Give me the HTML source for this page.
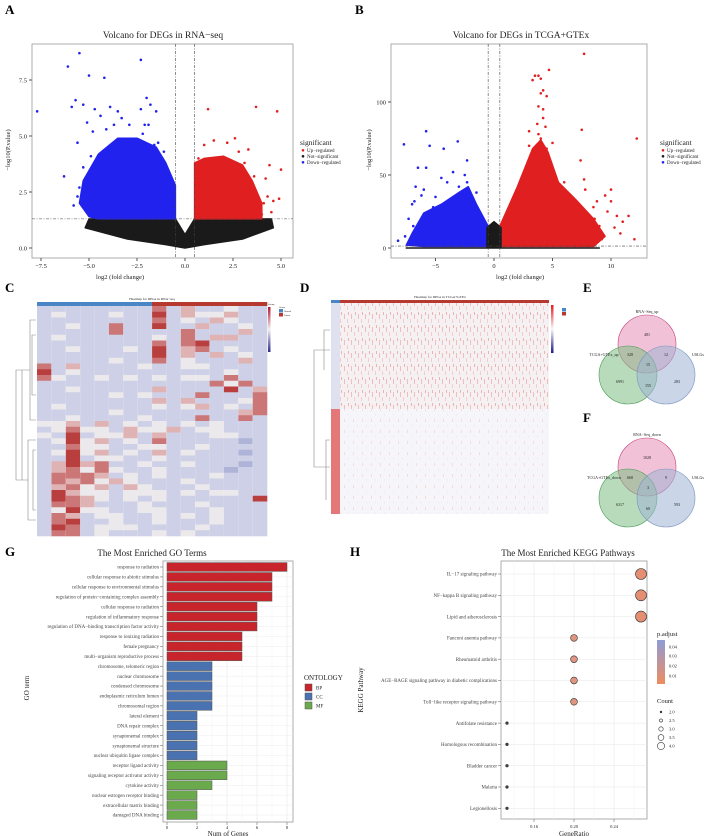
<!DOCTYPE html>
<html><head><meta charset="utf-8">
<style>
html,body{margin:0;padding:0;background:#fff;}
svg{display:block;font-family:"Liberation Serif",serif;}
</style></head>
<body>
<svg id="fig" width="708" height="836" viewBox="0 0 708 836" xmlns="http://www.w3.org/2000/svg">
<defs>
<linearGradient id="gradC" x1="0" y1="0" x2="0" y2="1"><stop offset="0" stop-color="#b2182b"/><stop offset="0.5" stop-color="#f2f0f0"/><stop offset="1" stop-color="#2c2c8c"/></linearGradient>
<linearGradient id="gradD" x1="0" y1="0" x2="0" y2="1"><stop offset="0" stop-color="#e8181c"/><stop offset="0.5" stop-color="#f7f7f7"/><stop offset="1" stop-color="#1a1a8c"/></linearGradient>
<linearGradient id="gradP" x1="0" y1="0" x2="0" y2="1"><stop offset="0" stop-color="#8e9cd6"/><stop offset="1" stop-color="#ee8c5e"/></linearGradient>
<pattern id="streak" width="7" height="13" patternUnits="userSpaceOnUse"><rect width="7" height="13" fill="#f5f1f3"/><rect x="1" y="2" width="0.6" height="5" fill="#ef9a9a"/><rect x="4" y="7" width="0.6" height="4" fill="#f3b4b4"/><rect x="5.5" y="0" width="0.5" height="3" fill="#e57373"/></pattern>
<pattern id="streak2" width="9" height="11" patternUnits="userSpaceOnUse"><rect width="9" height="11" fill="#f6f5f9"/><rect x="2" y="1" width="0.5" height="3" fill="#f3c2c2"/><rect x="6" y="6" width="0.5" height="3" fill="#ebe7f2"/></pattern>
</defs>
<g id="root"></g>
</svg>
<script>
// ---------- DATA ----------
const aBlueX=[-5.5,-2.3,-6.1,-5,-4.2,-5.7,-7.7,-5.9,-5.3,-4.7,-3.9,-3.5,-2,-1.8,-1.5,-2.3,-4.4,-3.3,-2.1,-1.9,-5.1,-4.8,-4.1,-3.7,-2.9,-2.2,-5.6,-4.9,-4.6,-6.3,-5.5,-5.2,-4.4,-3.8,-3.1,-2.6,-1.2,-1.6,-3.3,-4.0,-5.6,-5.8,-5.3,-4.9,-1.1,-0.9,-1.4];
const aBlueY=[8.7,8.4,8.1,7.7,7.6,6.6,6.1,6.3,6.4,6.2,6.3,6.1,6.7,6.4,6.1,6.2,5.9,5.8,5.5,5.5,5.6,5.2,5.3,5.5,5.5,5.1,4.7,4.1,3.7,3.2,2.7,2.9,3.3,4.4,4.6,4.5,4.0,4.6,3.9,4.2,2.3,1.9,3.6,2.5,4.3,3.5,4.7];
const aRedX=[1.2,3.7,4.8,2.6,3.3,1,4.4,5,4.9,4.6,4.2,3.5,4,3.1,3.6,2.2,2.8,1.5,1.9,3.9,4.3,2.4,4.1,3.8,4.5,3.2,0.7];
const aRedY=[6.2,6.3,6.1,4.9,4.4,4.6,3.7,3.5,2.2,2.1,3.1,2.8,1.5,3.8,3.2,4.7,4.3,4.8,4.0,2.0,2.3,3.9,2.0,1.9,1.6,2.6,4.0];
const aBlueEnvX=[-0.5,-0.5,-1,-1.5,-2.5,-3.5,-4.5,-5.3,-5.5,-5,-4.5];
const aBlueEnvY=[1.3,2.8,3.8,4.5,4.9,4.9,4.2,3,2,1.4,1.3];
const aRedEnvX=[0.5,0.5,1,2,3,3.5,4,4];
const aRedEnvY=[1.3,3.8,4,4.1,3.7,3,2,1.3];
const aBlackEnvX=[-5,-5.2,-3,-1,0,1,3,4.6,4.5,0.5,0,-0.5];
const aBlackEnvY=[1.3,0.9,0.4,0.15,0,0.15,0.4,0.9,1.3,1.3,0.6,1.3];
const aXTicks=[-7.5,-5,-2.5,0,2.5,5];
const aXTickLabels=["−7.5","−5.0","−2.5","0.0","2.5","5.0"];
const aYTicks=[0,2.5,5,7.5];
const aYTickLabels=["0.0","2.5","5.0","7.5"];
const bBlueX=[-5.8,-7.7,-5.5,-4.3,-3.1,-2.3,-5.8,-6.5,-3.5,-2.5,-4.5,-6.7,-6,-6.8,-7,-2.3,-4,-3,-7.3,-6.2,-5,-8.2,-6.9,-7.6,-5.2,-1.5,-1.8];
const bBlueY=[80,71,70,68,73,60,55,55,52,50,48,42,40,32,30,45,45,42,20,36,35,5,15,8,28,38,34];
const bRedX=[7.7,4.7,3.5,4,3.8,3.3,4.2,4,4.5,3.8,4.2,4.2,3.7,4.4,3,7.5,12.2,3.8,4,5,3,4.5,7.4,7.7,7.8,10,9.5,8.8,10,6.5,6.5,8.5,11.5,12,10.5,9.7,8,9,10.8,6,11,9.2,8.6,10.3];
const bRedY=[133,122,118,116,118,115,108,106,104,97,95,89,85,83,80,81,75,78,75,72,70,68,60,47,40,40,36,32,32,30,35,28,22,6,22,25,12,15,10,45,18,6,20,14];
const bBlueEnvX=[-0.5,-0.5,-1.5,-2.2,-3,-4.5,-6,-7,-7.5,-6];
const bBlueEnvY=[1,15,30,42,38,30,24,10,2,1];
const bRedEnvX=[0.5,0.5,2,3.3,4,4.6,5.5,7,8.5,9.5,8.5];
const bRedEnvY=[1,15,42,68,74,66,45,33,20,8,1];
const bBlackEnvX=[-7.5,-0.6,-0.6,0,0.6,0.6,9];
const bBlackEnvY=[0,0,14,18,14,0,0];
const bXTicks=[-5,0,5,10];
const bYTicks=[0,50,100];
const cRows=["2222222252422322","2322232262433422","2222222252324322","2232252262242232","2222252222522242","2322222232524422","2222222252562222","2232223262452322","2222222262424232","2222232252322242","5242222322332222","6232222222222322","5322323232332522","2222222222225352","2232222242222624","2222232322252225","2222222242422235","2322222232342325","2222232222222245","2232222322252252","3342423232323222","2353324334233222","3262334242223322","2363423252222212","2253322332232222","2363423242322212","2262332232222222","2464522322322212","2453532232222122","2555423232223222","2545343222322222","2453424322232222","2643323332323322","2654323232222226","2554222322232222","2363322332223222","2542332232323222","2562232232223222","2652333222232222","2552322232322222"];
const cGroups=["N","N","N","N","N","N","N","N","T","T","T","T","T","T","T","T"];
const goTerms=["response to radiation","cellular response to abiotic stimulus","cellular response to environmental stimulus","regulation of protein−containing complex assembly","cellular response to radiation","regulation of inflammatory response","regulation of DNA−binding transcription factor activity","response to ionizing radiation","female pregnancy","multi−organism reproductive process","chromosome, telomeric region","nuclear chromosome","condensed chromosome","endoplasmic reticulum lumen","chromosomal region","lateral element","DNA repair complex","synaptonemal complex","synaptonemal structure","nuclear ubiquitin ligase complex","receptor ligand activity","signaling receptor activator activity","cytokine activity","nuclear estrogen receptor binding","extracellular matrix binding","damaged DNA binding"];
const goCounts=[8,7,7,7,6,6,6,5,5,5,3,3,3,3,3,2,2,2,2,2,4,4,3,2,2,2];
const goOnt=["BP","BP","BP","BP","BP","BP","BP","BP","BP","BP","CC","CC","CC","CC","CC","CC","CC","CC","CC","CC","MF","MF","MF","MF","MF","MF"];
const goXTicks=[0,2,4,6,8];
const keggTerms=["IL−17 signaling pathway","NF−kappa B signaling pathway","Lipid and atherosclerosis","Fanconi anemia pathway","Rheumatoid arthritis","AGE−RAGE signaling pathway in diabetic complications","Toll−like receptor signaling pathway","Antifolate resistance","Homologous recombination","Bladder cancer","Malaria","Legionellosis"];
const keggRatio=[0.267,0.267,0.267,0.2,0.2,0.2,0.2,0.133,0.133,0.133,0.133,0.133];
const keggCount=[4,4,4,3,3,3,3,2,2,2,2,2];
const keggP=[0.005,0.005,0.006,0.008,0.008,0.008,0.008,0.05,0.05,0.05,0.05,0.05];
const keggXTicks=[0.16,0.2,0.24];
const vennE=["481","328","12","15","6991","155","283"];
const vennF=["1028","668","9","3","6317","60","593"];

// ---------- HELPERS ----------
const NS="http://www.w3.org/2000/svg";
const root=document.getElementById('root');
function mk(tag,attrs,parent,txt){const e=document.createElementNS(NS,tag);for(const k in attrs)e.setAttribute(k,attrs[k]);if(txt!==undefined)e.textContent=txt;(parent||root).appendChild(e);return e;}
function grp(name){const g=mk('g',{});


return g;}
function txt(g,x,y,s,size,opts){opts=opts||{};const a={x:x,y:y,'font-size':size,fill:opts.fill||'#222'};if(opts.anchor)a['text-anchor']=opts.anchor;if(opts.weight)a['font-weight']=opts.weight;if(opts.rot)a.transform='rotate(-90 '+x+' '+y+')';const t=mk('text',a,g,s);


return t;}
function poly(g,xs,ys,fx,fy,fill,name){const p=xs.map((v,i)=>fx(v).toFixed(1)+','+fy(ys[i]).toFixed(1)).join(' ');const e=mk('polygon',{points:p,fill:fill,stroke:fill,'stroke-width':1.5,'stroke-linejoin':'round'},g);


}
function dots(g,xs,ys,fx,fy,fill,name){xs.forEach((v,i)=>{const c=mk('circle',{cx:fx(v),cy:fy(ys[i]),r:1.3,fill:fill},g);


});}
function panelLabel(s,x,y){txt(root,x,y,s,13,{weight:'bold',fill:'#000',name:'panel-label-'+s.toLowerCase()});}

// ---------- PANEL A ----------
(function(){
const g=grp('volcano-rna-seq');
const fx=v=>41+(v+7.5)*19.2, fy=v=>248-v*22.4;
mk('rect',{x:32,y:44,width:261,height:214,fill:'#fff',stroke:'#999','stroke-width':0.8},g);
poly(g,aBlackEnvX,aBlackEnvY,fx,fy,'#1a1a1a','nonsig-cloud');
poly(g,aBlueEnvX,aBlueEnvY,fx,fy,'#2222ee','down-cloud');
poly(g,aRedEnvX,aRedEnvY,fx,fy,'#e02020','up-cloud');
dots(g,aBlueX,aBlueY,fx,fy,'#2222ee','down-point');
dots(g,aRedX,aRedY,fx,fy,'#e02020','up-point');
[-0.5,0.5].forEach(v=>mk('line',{x1:fx(v),x2:fx(v),y1:44,y2:258,stroke:'#444','stroke-dasharray':'3,1.5,1,1.5','stroke-width':0.6},g));
mk('line',{x1:32,x2:293,y1:fy(1.3),y2:fy(1.3),stroke:'#444','stroke-dasharray':'3,1.5,1,1.5','stroke-width':0.6},g);
aXTicks.forEach((v,i)=>{mk('line',{x1:fx(v),x2:fx(v),y1:258,y2:261,stroke:'#555'},g);txt(g,fx(v),268,aXTickLabels[i],6.5,{anchor:'middle',name:'x-tick'});});
aYTicks.forEach((v,i)=>{mk('line',{x1:29,x2:32,y1:fy(v),y2:fy(v),stroke:'#555'},g);txt(g,27,fy(v)+2.3,aYTickLabels[i],6.5,{anchor:'end',name:'y-tick'});});
txt(g,163,38,'Volcano for DEGs in RNA−seq',9.5,{anchor:'middle',name:'chart-title'});
txt(g,120,279,'log2 (fold change)',6.5,{anchor:'middle',name:'x-axis-title'});
txt(g,10,150,'−log10(P.value)',6.5,{anchor:'middle',rot:true,name:'y-axis-title'});
txt(g,300,145,'significant',7.5,{name:'legend-title'});
[['#e02020','Up−regulated',152],['#1a1a1a','Not−significant',158],['#2222ee','Down−regulated',164]].forEach(e=>{mk('circle',{cx:303,cy:e[2]-1.7,r:1.3,fill:e[0]},g);txt(g,307,e[2],e[1],5,{name:'legend-entry'});});
})();
panelLabel('A',5,14);

// ---------- PANEL B ----------
(function(){
const g=grp('volcano-tcga-gtex');
const fx=v=>494+v*11.7, fy=v=>248-v*1.46;
mk('rect',{x:391,y:44,width:256,height:214,fill:'#fff',stroke:'#999','stroke-width':0.8},g);
poly(g,bBlueEnvX,bBlueEnvY,fx,fy,'#2222ee','down-cloud');
poly(g,bRedEnvX,bRedEnvY,fx,fy,'#e02020','up-cloud');
poly(g,bBlackEnvX,bBlackEnvY,fx,fy,'#1a1a1a','nonsig-cloud');
dots(g,bBlueX,bBlueY,fx,fy,'#2222ee','down-point');
dots(g,bRedX,bRedY,fx,fy,'#e02020','up-point');
[-0.5,0.5].forEach(v=>mk('line',{x1:fx(v),x2:fx(v),y1:44,y2:258,stroke:'#444','stroke-dasharray':'3,1.5,1,1.5','stroke-width':0.6},g));
mk('line',{x1:391,x2:647,y1:fy(1.3),y2:fy(1.3),stroke:'#444','stroke-dasharray':'3,1.5,1,1.5','stroke-width':0.6},g);
bXTicks.forEach(v=>{mk('line',{x1:fx(v),x2:fx(v),y1:258,y2:261,stroke:'#555'},g);txt(g,fx(v),268,v<0?'−'+(-v):String(v),6.5,{anchor:'middle',name:'x-tick'});});
bYTicks.forEach(v=>{mk('line',{x1:388,x2:391,y1:fy(v),y2:fy(v),stroke:'#555'},g);txt(g,386,fy(v)+2.3,String(v),6.5,{anchor:'end',name:'y-tick'});});
txt(g,521,38,'Volcano for DEGs in TCGA+GTEx',9.5,{anchor:'middle',name:'chart-title'});
txt(g,520,279,'log2 (fold change)',6.5,{anchor:'middle',name:'x-axis-title'});
txt(g,371,150,'−log10(P.value)',6.5,{anchor:'middle',rot:true,name:'y-axis-title'});
txt(g,660,145,'significant',7.5,{name:'legend-title'});
[['#e02020','Up−regulated',152],['#1a1a1a','Not−significant',158],['#2222ee','Down−regulated',164]].forEach(e=>{mk('circle',{cx:663,cy:e[2]-1.7,r:1.3,fill:e[0]},g);txt(g,667,e[2],e[1],5,{name:'legend-entry'});});
})();
panelLabel('B',355,14);

// ---------- PANEL C ----------
(function(){
const g=grp('heatmap-rna-seq');
const cols=['#7e86bf','#aeb3d8','#cdd0e6','#ebe9ec','#dfb3b3','#cc7777','#b93f3f'];
const x0=37,x1=267,y0=306,y1=536;
const cw=(x1-x0)/cGroups.length, rh=(y1-y0)/cRows.length;
cGroups.forEach((gg,j)=>{const r=mk('rect',{x:x0+j*cw,y:302,width:cw+0.3,height:4,fill:gg==='N'?'#4a86c5':'#b5392e'},g);


});
cRows.forEach((row,i)=>{for(let j=0;j<row.length;j++){const r=mk('rect',{x:x0+j*cw,y:y0+i*rh,width:cw+0.3,height:rh+0.3,fill:cols[+row[j]]},g);


}});
for(let j=1;j<cGroups.length;j++)mk('line',{x1:x0+j*cw,x2:x0+j*cw,y1:y0,y2:y1,stroke:'#fff','stroke-width':0.25,opacity:0.6},g);
const d='M36,320 H30 V420 H36 M30,370 H22 V480 M36,440 H28 V520 H36 M28,480 H16 V370 H22 M36,335 H32 V395 H36 M36,450 H33 V510 H36';
mk('path',{d:d,fill:'none',stroke:'#888','stroke-width':0.6},g);
txt(g,152,300,'Heatmap for DEGs in RNA−seq',3.5,{anchor:'middle',name:'chart-title'});
mk('rect',{x:268,y:307,width:2.5,height:45,fill:'url(#gradC)'},g);
txt(g,268,305,'Group',2.5,{name:'legend-title'});
mk('rect',{x:279,y:309,width:4,height:3.5,fill:'#4a86c5'},g);mk('rect',{x:279,y:313,width:4,height:3.5,fill:'#b5392e'},g);
txt(g,279,308,'Group',2.3,{name:'legend-title'});txt(g,284,312,'Normal',2.3,{name:'legend-entry'});txt(g,284,316,'Tumor',2.3,{name:'legend-entry'});
})();
panelLabel('C',5,292);

// ---------- PANEL D ----------
(function(){
const g=grp('heatmap-tcga-gtex');
mk('rect',{x:331,y:300,width:9,height:3,fill:'#4a86c5'},g);
mk('rect',{x:340,y:300,width:209,height:3,fill:'#b5392e'},g);
mk('rect',{x:331,y:303,width:218,height:106,fill:'url(#streak)'},g);
mk('rect',{x:331,y:409,width:218,height:105,fill:'url(#streak2)'},g);
mk('rect',{x:331,y:303,width:9,height:106,fill:'#dfe1ef'},g);
mk('rect',{x:331,y:409,width:9,height:105,fill:'#e47878'},g);
mk('path',{d:'M330,350 H314 V467 H330 M330,330 H324 V370 M330,440 H326 V500',fill:'none',stroke:'#888','stroke-width':0.6},g);
txt(g,440,298,'Heatmap for DEGs in TCGA+GTEx',3.5,{anchor:'middle',name:'chart-title'});
mk('rect',{x:551,y:305,width:2.5,height:48,fill:'url(#gradD)'},g);
mk('rect',{x:562,y:308,width:4,height:3.5,fill:'#4a86c5'},g);mk('rect',{x:562,y:312,width:4,height:3.5,fill:'#b5392e'},g);
})();
panelLabel('D',300,292);

// ---------- VENN E/F ----------
function venn(name,cy,vals,topLbl,leftLbl){
const g=grp(name);
mk('circle',{cx:647,cy:cy,r:29,fill:'#e58fb6',stroke:'#c8407a','stroke-width':0.6,'fill-opacity':0.55},g);
mk('circle',{cx:628,cy:cy+31,r:29,fill:'#7dbf84',stroke:'#4a9a55','stroke-width':0.6,'fill-opacity':0.55},g);
mk('circle',{cx:666,cy:cy+31,r:29,fill:'#9fb4d3',stroke:'#7a92c0','stroke-width':0.6,'fill-opacity':0.55},g);
txt(g,647,cy-31,topLbl,4,{anchor:'middle',name:'set-label'});
txt(g,604,cy+12,leftLbl,4,{anchor:'middle',name:'set-label'});
txt(g,698,cy+12,'USLGs',4,{anchor:'middle',name:'set-label'});
const pos=[[647,cy-8],[630,cy+12],[666,cy+12],[648,cy+22],[620,cy+39],[648,cy+43],[677,cy+39]];
vals.forEach((v,i)=>txt(g,pos[i][0],pos[i][1],v,4,{anchor:'middle',name:'region-count'}));
}
venn('venn-up',344,vennE,'RNA−Seq_up','TCGA+GTEx_up');
venn('venn-down',467,vennF,'RNA−Seq_down','TCGA+GTEx_down');
panelLabel('E',583,292);
panelLabel('F',583,422);

// ---------- PANEL G ----------
(function(){
const g=grp('go-bar-chart');
const fx=v=>167+v*15, fy=i=>567+i*9.92;
const colors={BP:'#c7252b',CC:'#4a72b0',MF:'#6aaa4c'};
mk('rect',{x:163,y:561,width:130,height:261,fill:'#fff',stroke:'#999','stroke-width':0.8},g);
for(let v=0;v<=8.5;v+=1)mk('line',{x1:fx(v),x2:fx(v),y1:561,y2:822,stroke:v%2?'#f2f2f2':'#e4e4e4','stroke-width':0.5},g);
goTerms.forEach((t,i)=>mk('line',{x1:163,x2:293,y1:fy(i),y2:fy(i),stroke:'#ececec','stroke-width':0.5},g));
goTerms.forEach((t,i)=>{
const r=mk('rect',{x:fx(0),y:fy(i)-4.4,width:fx(goCounts[i])-fx(0),height:8.8,fill:colors[goOnt[i]],stroke:'#555','stroke-width':0.5},g);


mk('line',{x1:160,x2:163,y1:fy(i),y2:fy(i),stroke:'#555','stroke-width':0.5},g);
txt(g,159,fy(i)+1.7,t,5,{anchor:'end',fill:'#444',name:'y-tick'});
});
goXTicks.forEach(v=>{mk('line',{x1:fx(v),x2:fx(v),y1:822,y2:825,stroke:'#555','stroke-width':0.5},g);txt(g,fx(v),829,String(v),4.5,{anchor:'middle',name:'x-tick'});});
txt(g,152,556,'The Most Enriched GO Terms',9,{anchor:'middle',name:'chart-title'});
txt(g,228,836,'Num of Genes',7,{anchor:'middle',name:'x-axis-title'});
txt(g,29,688,'GO term',7,{anchor:'middle',rot:true,name:'y-axis-title'});
txt(g,304,680,'ONTOLOGY',7,{name:'legend-title'});
[['BP',684],['CC',693],['MF',702]].forEach(e=>{const r=mk('rect',{x:305,y:e[1],width:7,height:7,fill:colors[e[0]],stroke:'#555','stroke-width':0.5},g);


txt(g,316,e[1]+5.5,e[0],5,{name:'legend-entry'});});
})();
panelLabel('G',5,556);

// ---------- PANEL H ----------
(function(){
const g=grp('kegg-dot-plot');
const fx=v=>574+(v-0.2)*1000, fy=i=>574+i*21.3;
const rs=c=>1.3+(c-2)*2.1;
const col=p=>p<0.007?'#e58f72':'#df9580';
mk('rect',{x:501,y:561,width:146,height:258,fill:'#fff',stroke:'#999','stroke-width':0.8},g);
[0.14,0.16,0.18,0.2,0.22,0.24,0.26].forEach((v,k)=>mk('line',{x1:fx(v),x2:fx(v),y1:561,y2:819,stroke:k%2?'#e4e4e4':'#f2f2f2','stroke-width':0.5},g));
keggTerms.forEach((t,i)=>{
mk('line',{x1:501,x2:647,y1:fy(i),y2:fy(i),stroke:'#e6e6e6','stroke-width':0.5},g);
mk('line',{x1:498,x2:501,y1:fy(i),y2:fy(i),stroke:'#555','stroke-width':0.5},g);
txt(g,497,fy(i)+1.7,t,5,{anchor:'end',fill:'#444',name:'y-tick'});
const c=mk('circle',{cx:fx(keggRatio[i]),cy:fy(i),r:rs(keggCount[i]),fill:keggCount[i]>2?col(keggP[i]):'#444',stroke:'#333','stroke-width':0.6},g);


});
keggXTicks.forEach(v=>{mk('line',{x1:fx(v),x2:fx(v),y1:819,y2:822,stroke:'#555','stroke-width':0.5},g);txt(g,fx(v),828,v.toFixed(2),4.5,{anchor:'middle',name:'x-tick'});});
txt(g,568,556,'The Most Enriched KEGG Pathways',9,{anchor:'middle',name:'chart-title'});
txt(g,574,836,'GeneRatio',7,{anchor:'middle',name:'x-axis-title'});
txt(g,363,690,'KEGG Pathway',7,{anchor:'middle',rot:true,name:'y-axis-title'});
txt(g,657,636,'p.adjust',6.5,{name:'legend-title'});
mk('rect',{x:657,y:640,width:8,height:44,fill:'url(#gradP)'},g);
[['0.04',647],['0.03',656],['0.02',666],['0.01',676]].forEach(e=>txt(g,669,e[1]+1.5,e[0],4.5,{name:'legend-entry'}));
txt(g,657,703,'Count',6.5,{name:'legend-title'});
[2,2.5,3,3.5,4].forEach((c,k)=>{const y=712+k*8.5;mk('circle',{cx:661,cy:y,r:c===2?0.9:rs(c)*0.65,fill:c===2?'#333':'none',stroke:'#333','stroke-width':0.6},g);txt(g,669,y+1.5,c.toFixed(1),4.5,{name:'legend-entry'});});
})();
panelLabel('H',350,556);
</script>
</body></html>
